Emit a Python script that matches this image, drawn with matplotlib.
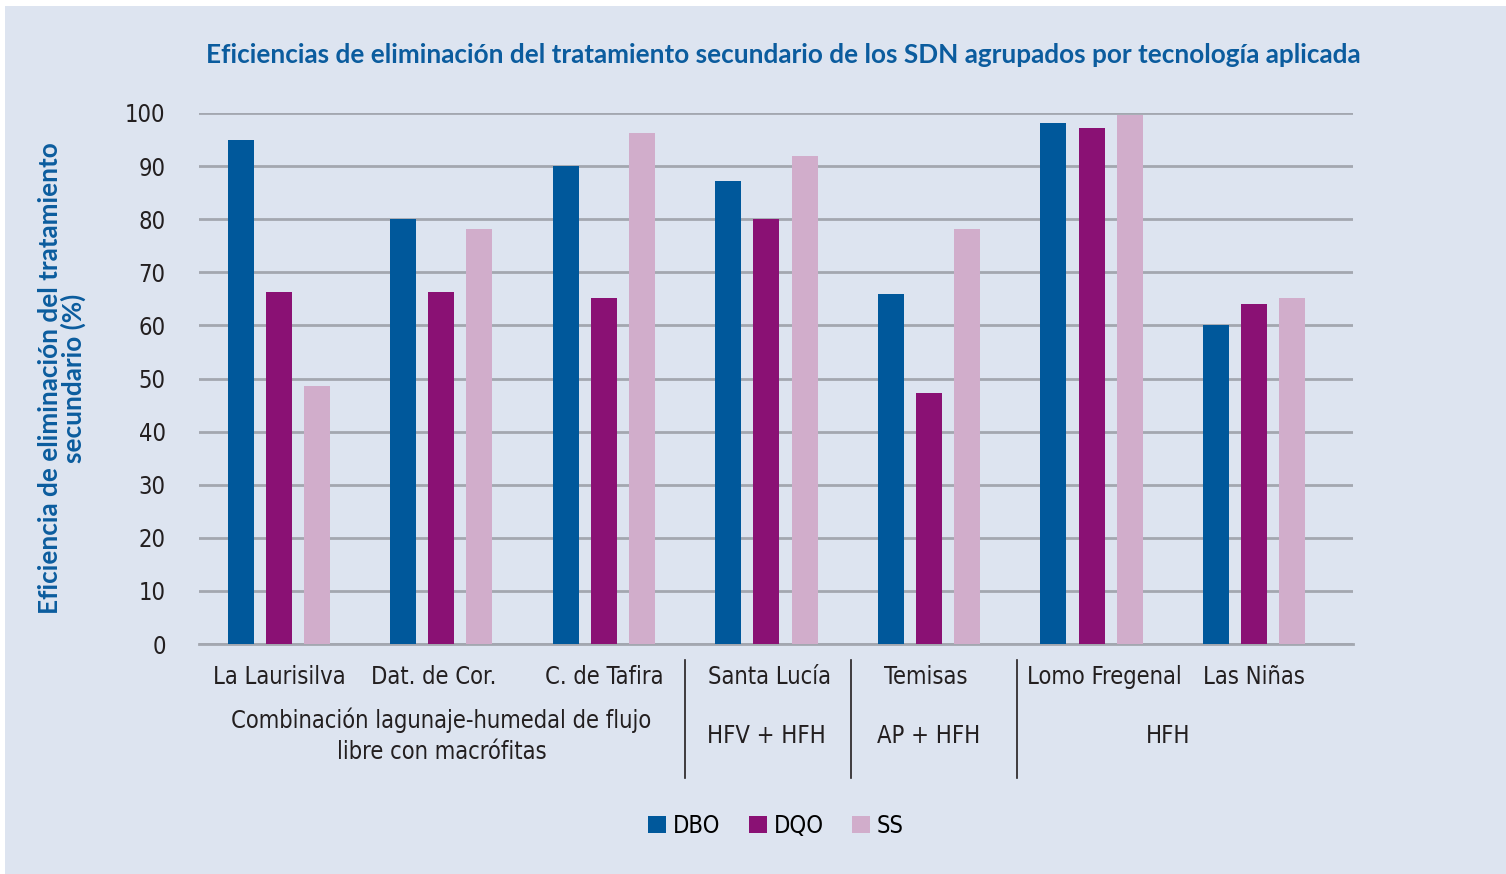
import numpy as np
import matplotlib
matplotlib.use("Agg")
import matplotlib.pyplot as plt
from matplotlib.patches import Patch, Rectangle
from matplotlib.lines import Line2D
from matplotlib import font_manager
import matplotlib.transforms as mtransforms

plantas = ['La Laurisilva', 'Dat. de Cor.', 'C. de Tafira', 'Santa Lucía', 'Temisas', 'Lomo Fregenal', 'Las Niñas']
dbo = [95, 80, 90, 87.2, 66, 98.1, 60]
dqo = [66.3, 66.3, 65.2, 80, 47.3, 97.2, 64]
ss = [48.6, 78.2, 96.2, 91.9, 78.2, 99.6, 65.2]
series = ['DBO', 'DQO', 'SS']
grupos = ['Combinación lagunaje-humedal de flujo\nlibre con macrófitas', 'HFV + HFH', 'AP + HFH', 'HFH']
grupo_pos = [1, 3, 4, 5.47]
separadores = [2.5, 3.52, 4.54]
desplaz_etiqueta = [0, -0.05, 0, 0.02, -0.02, 0.08, 0]

colores = ['#00589b', '#8a1174', '#d1adcb']
fondo = '#dde4f0'
azul_titulo = '#0b5c9e'
fuente_titulo = ['Lato', 'DejaVu Sans']

# buscar una letra estrecha si existe
estrecha = False
for fam, st in [('Liberation Sans Narrow', 'normal'), ('DejaVu Sans', 'condensed')]:
    fp = font_manager.FontProperties(family=fam, stretch=st)
    try:
        f = font_manager.findfont(fp, fallback_to_default=False)
    except Exception:
        f = ''
    if 'Narrow' in f or 'Condensed' in f:
        fuente = [fam, 'DejaVu Sans']
        ancho_letra = st
        estrecha = True
        break
if not estrecha:
    fuente = ['DejaVu Sans']
    ancho_letra = 'normal'
tam = 17 if estrecha else 15

W, H = 1506, 874
fig = plt.figure(figsize=(W / 100, H / 100), dpi=100, facecolor='white')
fig.patches.append(Rectangle((5 / W, 0), 1 - 5 / W, 1 - 6 / H, transform=fig.transFigure,
                             facecolor=fondo, edgecolor='none', zorder=-10))

ax = fig.add_axes([199 / W, 1 - 644 / H, 1154 / W, (644 - 113) / H])
ax.set_facecolor(fondo)

x = np.arange(len(plantas))
ancho = 0.16
paso = 0.234
for i, vals in enumerate([dbo, dqo, ss]):
    ax.bar(x + (i - 1) * paso, vals, ancho, color=colores[i], zorder=3)

ax.set_ylim(0, 100)
ax.set_xlim(-0.492, 6.609)
ax.set_yticks(range(0, 101, 10))
ax.yaxis.grid(True, color='#a3a7b0', linewidth=2, zorder=1)
for s in ['top', 'right', 'left']:
    ax.spines[s].set_visible(False)
ax.spines['bottom'].set_color('#a3a7b0')
ax.spines['bottom'].set_linewidth(2)
ax.tick_params(axis='both', length=0, colors='#231f20')
ax.tick_params(axis='y', pad=24)
ax.set_xticks([])
for t in ax.get_yticklabels():
    t.set_fontfamily(fuente)
    t.set_fontstretch(ancho_letra)
    t.set_fontsize(tam)

# etiquetas de planta, de grupo y separadores
trans = mtransforms.blended_transform_factory(ax.transData, fig.transFigure)
for xi, nombre, d in zip(x, plantas, desplaz_etiqueta):
    ax.text(xi + d, 1 - 677 / H, nombre, transform=trans, ha='center', va='center', fontsize=tam,
            fontfamily=fuente, fontstretch=ancho_letra, color='#231f20')
for g, p in zip(grupos, grupo_pos):
    ax.text(p, 1 - 736 / H, g, transform=trans, ha='center', va='center', fontsize=tam,
            fontfamily=fuente, fontstretch=ancho_letra, color='#231f20', linespacing=1.35)
for s in separadores:
    ax.add_line(Line2D([s, s], [1 - 660 / H, 1 - 778 / H], transform=trans, color='#231f20',
                       linewidth=1.2, clip_on=False))

fig.text(783 / W, 1 - 55 / H,
         'Eficiencias de eliminación del tratamiento secundario de los SDN agrupados por tecnología aplicada',
         ha='center', va='center', fontsize=18.8, fontweight='bold', color=azul_titulo, fontfamily=fuente_titulo)
fig.text(62 / W, 1 - 378 / H, 'Eficiencia de eliminación del tratamiento\nsecundario (%)',
         ha='center', va='center', rotation=90, fontsize=18.8, fontweight='bold', color=azul_titulo,
         fontfamily=fuente_titulo, linespacing=0.95)

handles = [Patch(facecolor=c, edgecolor='none') for c in colores]
fig.legend(handles, series, loc='center', bbox_to_anchor=(776 / W, 1 - 826 / H), ncol=3, frameon=False,
           handlelength=0.75, handleheight=0.75, handletextpad=0.3, columnspacing=1.2,
           prop={'family': fuente, 'stretch': ancho_letra, 'size': tam})

fig.savefig('out.png', dpi=100, facecolor='white')
